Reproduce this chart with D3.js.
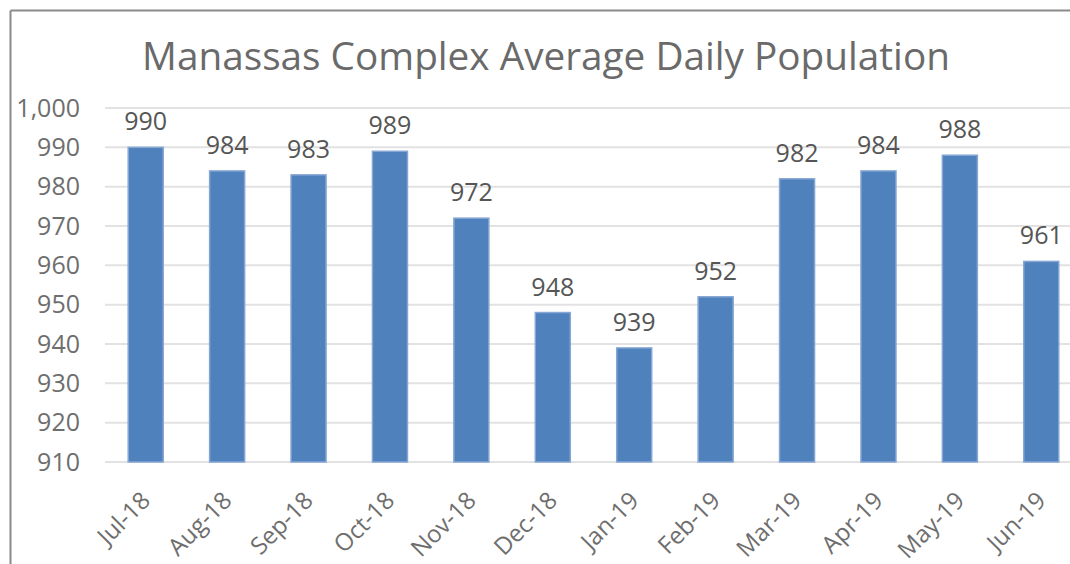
<!DOCTYPE html>
<html>
<head>
<meta charset="utf-8">
<script src="https://cdn.jsdelivr.net/npm/d3@7/dist/d3.min.js"></script>
<style>
  html, body { margin: 0; padding: 0; background: #fff; }
  svg { display: block; font-family: "Open Sans", sans-serif; }
</style>
</head>
<body>
<div id="chart"></div>
<script>
const title = 'Manassas Complex Average Daily Population';
const months = ['Jul-18', 'Aug-18', 'Sep-18', 'Oct-18', 'Nov-18', 'Dec-18',
                'Jan-19', 'Feb-19', 'Mar-19', 'Apr-19', 'May-19', 'Jun-19'];
const population = [990, 984, 983, 989, 972, 948, 939, 952, 982, 984, 988, 961];
const yTicks = [910, 920, 930, 940, 950, 960, 970, 980, 990, 1000];

const width = 1070, height = 564;
const margin = {top: 108, left: 105, right: -12, bottom: 102};

const svg = d3.select('#chart').append('svg')
    .attr('width', width).attr('height', height);

// scales
const x = d3.scaleBand()
    .domain(months)
    .range([margin.left, width - margin.right])
    .paddingInner(0.57)
    .paddingOuter(0.285);

const y = d3.scaleLinear()
    .domain([910, 1000])
    .range([height - margin.bottom, margin.top]);

// frame (only top and left edges are visible in the crop)
svg.append('line')
    .attr('x1', 10.5).attr('x2', width).attr('y1', 10.5).attr('y2', 10.5)
    .attr('stroke', '#8a8a8a').attr('stroke-width', 2);
svg.append('line')
    .attr('x1', 10.5).attr('x2', 10.5).attr('y1', 10.5).attr('y2', height)
    .attr('stroke', '#8a8a8a').attr('stroke-width', 2);

// gridlines
svg.append('g').attr('class', 'grid')
    .selectAll('line').data(yTicks).join('line')
    .attr('x1', margin.left).attr('x2', width)
    .attr('y1', d => y(d)).attr('y2', d => y(d))
    .attr('stroke', '#e2e2e2').attr('stroke-width', 2);

// y axis labels
const yAxis = svg.append('g')
    .attr('transform', `translate(${margin.left},0)`)
    .call(d3.axisLeft(y).tickValues(yTicks).tickFormat(d3.format(',')).tickSize(0).tickPadding(25));
yAxis.select('.domain').remove();
yAxis.selectAll('text')
    .attr('fill', '#6e6e6e')
    .style('font-size', '25px')
    .style('font-family', '"Open Sans", sans-serif');

// bars
svg.append('g').selectAll('.bar').data(population).join('rect')
    .attr('class', 'bar')
    .attr('x', (d, i) => x(months[i]))
    .attr('y', d => y(d))
    .attr('width', x.bandwidth())
    .attr('height', d => y(910) - y(d))
    .attr('fill', '#4f81bd')
    .attr('stroke', '#86a6d4')
    .attr('stroke-width', 1.5);

// value labels
svg.append('g').selectAll('text').data(population).join('text')
    .attr('x', (d, i) => x(months[i]) + x.bandwidth() / 2)
    .attr('y', d => y(d) - 17)
    .attr('text-anchor', 'middle')
    .attr('fill', '#555')
    .style('font-size', '25px')
    .text(d => d);

// x axis labels, rotated
svg.append('g').selectAll('text').data(months).join('text')
    .attr('transform', d => `translate(${x(d) + x.bandwidth() / 2 + 6},502) rotate(-45)`)
    .attr('text-anchor', 'end')
    .attr('fill', '#6e6e6e')
    .style('font-size', '24px')
    .text(d => d);

// title, sized to span the same width as the reference
const t = svg.append('text')
    .attr('x', 546).attr('y', 70)
    .attr('text-anchor', 'middle')
    .attr('fill', '#6a6a6a')
    .style('font-size', '38px')
    .text(title);
const w = t.node().getComputedTextLength();
t.style('font-size', (38 * 808 / w) + 'px');
</script>
</body>
</html>
